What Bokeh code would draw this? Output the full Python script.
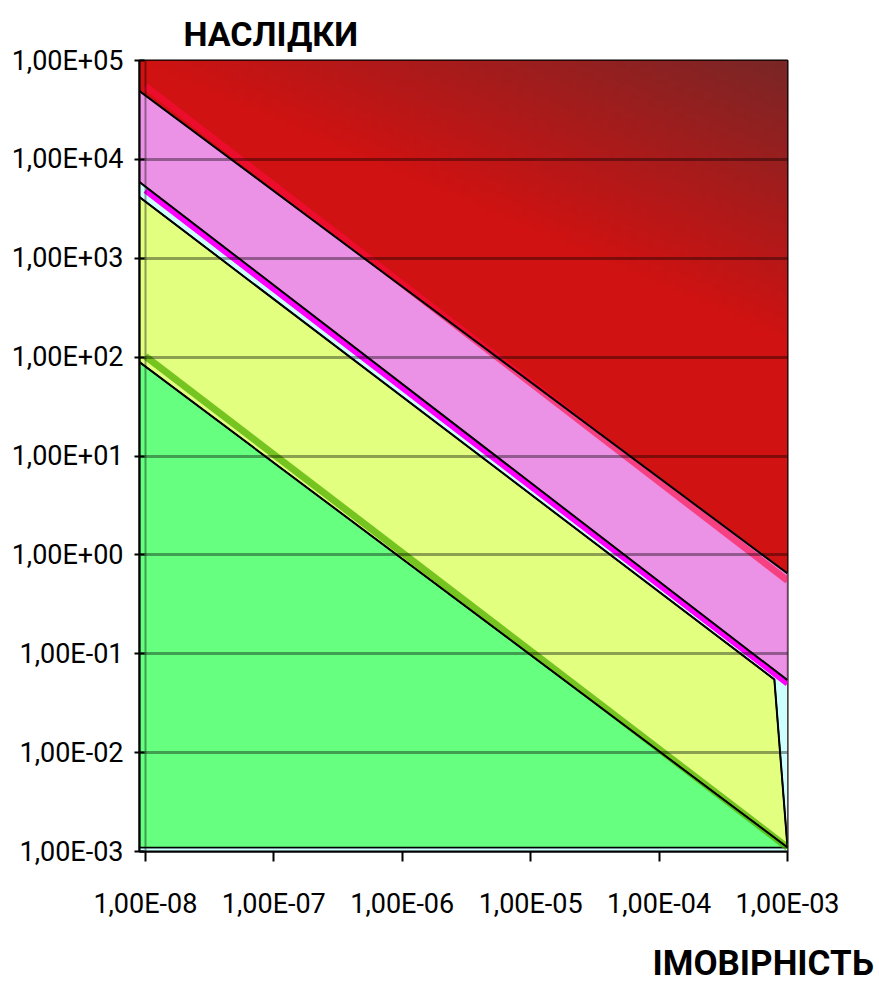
import numpy as np
from bokeh.plotting import figure
from bokeh.models import Range1d, FixedTicker, Title
from bokeh.embed import file_html
from bokeh.resources import INLINE

# ---- data -------------------------------------------------------------
X_TICKS = [1e-8, 1e-7, 1e-6, 1e-5, 1e-4, 1e-3]
X_TICK_LABELS = ["1,00E-08", "1,00E-07", "1,00E-06", "1,00E-05", "1,00E-04", "1,00E-03"]
Y_TICKS = [1e-3, 1e-2, 1e-1, 1e0, 1e1, 1e2, 1e3, 1e4, 1e5]
Y_TICK_LABELS = ["1,00E-03", "1,00E-02", "1,00E-01", "1,00E+00", "1,00E+01",
                 "1,00E+02", "1,00E+03", "1,00E+04", "1,00E+05"]

X_FRAME = [9e-9, 1e-3]
Y_FRAME = [1e-3, 1e5]

# zone boundaries (value at left edge, value at right edge)
PINK_X = [9e-9, 1e-3]
PINK_TOP = [4.9e4, 0.65]
PINK_BOTTOM = [5.9e3, 0.054]

YELLOW_X = [9e-9, 7.9e-4, 1e-3]
YELLOW_TOP = [4.15e3, 0.055, 1.1e-3]

GREEN_X = [9e-9, 1e-3]
GREEN_TOP = [89.0, 1.1e-3]
BASE = 1.1e-3

# thick boundary lines
LINE_X = [1e-8, 1e-3]
RED_LINE = [5.5e4, 0.55]
MAGENTA_LINE = [4.85e3, 0.05]
GREEN_LINE = [102.0, 1.1e-3]

FONT = "Roboto"

# ---- figure -----------------------------------------------------------
p = figure(width=879, height=1003, x_axis_type="log", y_axis_type="log",
           x_range=Range1d(X_FRAME[0], X_FRAME[1]),
           y_range=Range1d(Y_FRAME[0], Y_FRAME[1]),
           output_backend="svg", toolbar_location=None,
           min_border_left=139, min_border_right=92,
           min_border_top=60, min_border_bottom=152)
p.background_fill_color = "white"
p.border_fill_color = "white"
p.outline_line_color = "black"
p.outline_line_width = 2

# red gradient background (style only)
H, W = 120, 120
jj, ii = np.meshgrid(np.arange(W), np.arange(H))
u = jj / (W - 1) * 648.0           # px from left
v = (1 - ii / (H - 1)) * 791.0     # px from top
t = np.clip((278.0 * u - 648.0 * v) / (278.0 * 648.0), 0, 1)
bright = np.array([208, 18, 18]); dark = np.array([122, 38, 38])
rgb = bright[None, None, :] * (1 - t[..., None]) + dark[None, None, :] * t[..., None]
img = np.empty((H, W), dtype=np.uint32)
view = img.view(dtype=np.uint8).reshape((H, W, 4))
view[..., 0] = rgb[..., 0]
view[..., 1] = rgb[..., 1]
view[..., 2] = rgb[..., 2]
view[..., 3] = 255
p.image_rgba(image=[img], x=X_FRAME[0], y=Y_FRAME[0],
             dw=X_FRAME[1] - X_FRAME[0], dh=Y_FRAME[1] - Y_FRAME[0])

# zones
p.patch(x=PINK_X + PINK_X[::-1], y=PINK_TOP + PINK_BOTTOM[::-1],
        fill_color="#ec92e6", line_color="#8a4a86", line_width=1.5)
p.patch(x=PINK_X + PINK_X[::-1], y=PINK_BOTTOM + [Y_FRAME[0], Y_FRAME[0]],
        fill_color="#ccffff", line_color=None)
p.patch(x=YELLOW_X + [YELLOW_X[-1], YELLOW_X[0]], y=YELLOW_TOP + [BASE, BASE],
        fill_color="#e2ff80", line_color="black", line_width=1.5)
p.patch(x=GREEN_X + [GREEN_X[0]], y=GREEN_TOP + [BASE],
        fill_color="#66ff80", line_color="black", line_width=1.5)

# thick coloured lines
p.line(LINE_X, RED_LINE, line_color="#ff0a40", line_alpha=0.6, line_width=7)
p.line(LINE_X, MAGENTA_LINE, line_color="#ff00ff", line_width=6)
p.line(LINE_X, GREEN_LINE, line_color="#50b000", line_alpha=0.75, line_width=7)

# black boundary lines
p.line(PINK_X, PINK_TOP, line_color="black", line_width=2)
p.line(PINK_X, PINK_BOTTOM, line_color="black", line_width=2)
p.line(YELLOW_X, YELLOW_TOP, line_color="black", line_width=2)
p.line(GREEN_X, GREEN_TOP, line_color="black", line_width=2)

# grids drawn over the zones
p.xgrid.ticker = FixedTicker(ticks=[X_TICKS[0]])
p.ygrid.ticker = FixedTicker(ticks=Y_TICKS)
for g in (p.xgrid[0], p.ygrid[0]):
    g.level = "overlay"
    g.grid_line_color = "black"
    g.grid_line_alpha = 0.38
p.ygrid.grid_line_width = 3
p.xgrid.grid_line_width = 2

# axes
p.xaxis.ticker = FixedTicker(ticks=X_TICKS)
p.xaxis.major_label_overrides = dict(zip(X_TICKS, X_TICK_LABELS))
p.yaxis.ticker = FixedTicker(ticks=Y_TICKS)
p.yaxis.major_label_overrides = dict(zip(Y_TICKS, Y_TICK_LABELS))
for ax in (p.xaxis[0], p.yaxis[0]):
    ax.axis_line_color = "black"
    ax.axis_line_width = 2
    ax.major_tick_line_color = "black"
    ax.major_tick_line_width = 2
    ax.minor_tick_line_color = None
    ax.major_label_text_font = FONT
    ax.major_label_text_font_size = "27px"
    ax.major_label_text_color = "black"
p.xaxis.major_tick_in = 0
p.xaxis.major_tick_out = 10
p.xaxis.major_label_standoff = 26
p.yaxis.major_tick_in = 5
p.yaxis.major_tick_out = 5
p.yaxis.major_label_standoff = 11

# titles
p.title = Title(text="НАСЛІДКИ", align="left", offset=44, standoff=14,
                text_font=FONT, text_font_style="bold", text_font_size="34px",
                text_color="black")
p.add_layout(Title(text="ІМОВІРНІСТЬ", align="left", offset=513, standoff=36,
                   text_font=FONT, text_font_style="bold", text_font_size="35px",
                   text_color="black"), "below")

open("out.html", "w").write(file_html(p, INLINE))
